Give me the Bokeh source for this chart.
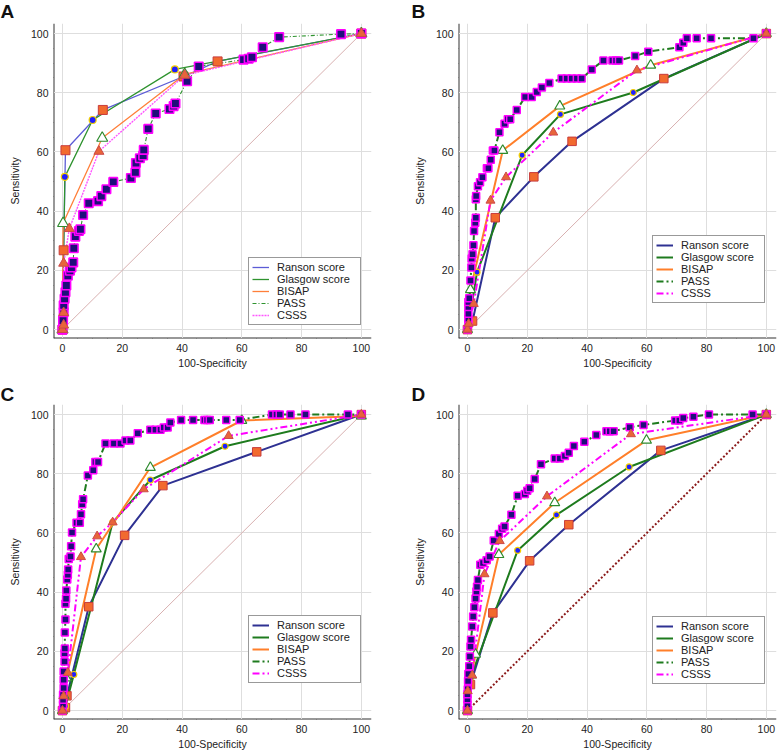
from bokeh.plotting import figure
from bokeh.layouts import column, row
from bokeh.models import Range1d, FixedTicker, Legend, LegendItem, LinearAxis
from bokeh.embed import file_html
from bokeh.resources import INLINE

FONT = "Liberation Sans"

SERIES = ["Ranson score", "Glasgow score", "BISAP", "PASS", "CSSS"]
MAJOR_TICKS = [0, 20, 40, 60, 80, 100]
MINOR_TICKS = [5, 10, 15, 25, 30, 35, 45, 50, 55, 65, 70, 75, 85, 90, 95]
DIAG = [0, 100]

A_ranson = [(0, 0), (0.4, 26.8), (1.0, 60.6), (13.5, 74.2), (40.5, 85.5), (51.9, 90.6), (100, 100)]
A_glasgow = [(0, 0), (0.8, 51.6), (10.1, 70.8), (37.6, 87.9), (100, 100)]
A_bisap = [(0, 0), (0.2, 35.9), (13.3, 64.7), (40.9, 86.2), (100, 100)]
A_pass = [(0, 0), (0.2, 3.1), (0.4, 5.9), (0.4, 8.2), (0.7, 10.4), (1.0, 12.6), (1.3, 14.9), (1.8, 18.2),
          (2.5, 19.9), (3.0, 21.0), (3.6, 22.7), (3.8, 27.5), (4.3, 31.4), (5.5, 33.3), (6.0, 33.9),
          (6.9, 38.7), (8.8, 42.7), (11.9, 43.4), (13.0, 45.1), (14.7, 47.4), (17.0, 49.9), (22.9, 51.2),
          (24.4, 53.1), (24.6, 56.3), (25.9, 57.9), (27.0, 58.8), (27.2, 60.7), (28.7, 67.8), (31.2, 73.0),
          (35.8, 74.5), (37.2, 75.5), (37.8, 76.4), (41.7, 83.9), (45.6, 88.9), (60.6, 91.2), (62.3, 91.5),
          (63.4, 92.0), (67.0, 95.4), (72.5, 98.8), (93.2, 99.8), (100, 100)]
A_csss = [(0, 0), (0.4, 1.5), (0.4, 5.7), (0.4, 22.4), (2.3, 34.1), (12.2, 60.2), (40.9, 85.9), (100, 100)]

B_ranson = [(0, 0), (1.7, 2.9), (9.3, 37.8), (22.2, 51.6), (35.0, 63.6), (65.7, 84.8), (100, 100)]
B_glasgow = [(0, 0), (0.6, 3.0), (3.2, 19.4), (18.3, 58.9), (31.1, 72.7), (55.5, 80.1), (100, 100)]
B_bisap = [(0, 0), (1.0, 13.5), (11.8, 60.5), (30.9, 75.5), (61.3, 89.3), (100, 100)]
B_pass = [(0, 0), (0.3, 2.0), (0.3, 3.7), (0.3, 5.4), (0.3, 7.6), (0.3, 9.3), (0.6, 10.6), (1.0, 16.6),
          (1.3, 21.0), (1.4, 24.0), (1.7, 25.5), (2.0, 28.5), (2.2, 33.3), (2.6, 36.1), (2.8, 37.8),
          (2.8, 44.0), (2.9, 45.1), (3.5, 48.4), (4.2, 49.8), (5.0, 51.5), (6.5, 54.5), (7.0, 54.5),
          (7.8, 57.4), (8.5, 60.5), (9.0, 60.5), (10.7, 66.7), (12.4, 69.5), (13.5, 71.1), (14.3, 71.1),
          (16.5, 74.2), (19.3, 78.6), (21.5, 78.6), (23.2, 80.3), (24.9, 81.8), (27.4, 83.3), (31.5, 84.8),
          (33.2, 84.8), (34.9, 84.8), (36.6, 84.8), (38.2, 84.8), (41.6, 87.9), (45.5, 90.9), (48.5, 90.9),
          (49.7, 90.9), (50.7, 90.9), (56.1, 92.4), (60.5, 93.9), (70.9, 95.4), (72.2, 96.9), (73.4, 98.4),
          (76.7, 98.4), (81.5, 98.4), (95.7, 98.4), (100, 100)]
B_csss = [(0, 0), (0.4, 2.0), (2.1, 8.7), (7.7, 43.6), (12.9, 51.5), (28.7, 66.6), (56.7, 87.6), (100, 100)]

C_ranson = [(0, 0), (1.0, 1.0), (1.5, 5.0), (8.8, 35.1), (20.8, 59.2), (33.6, 76.0), (65.0, 87.4), (100, 100)]
C_glasgow = [(0, 0), (1.0, 1.5), (3.8, 12.2), (16.8, 63.6), (29.4, 77.9), (54.4, 89.3), (100, 100)]
C_bisap = [(0, 0), (0.5, 5.0), (1.3, 11.0), (11.3, 54.6), (29.4, 82.1), (60.0, 98.0), (100, 99.5)]
C_pass = [(0, 0), (0.2, 2.0), (0.2, 3.7), (0.2, 5.4), (0.4, 7.6), (0.4, 10.4), (0.4, 13.2), (0.7, 16.6),
          (0.7, 19.4), (0.8, 21.0), (0.8, 26.4), (1.0, 30.8), (1.0, 36.1), (1.2, 37.8), (1.3, 40.6),
          (1.6, 44.3), (1.8, 45.9), (1.9, 47.7), (2.1, 51.2), (2.7, 52.1), (2.9, 55.5), (3.2, 60.2),
          (4.7, 63.5), (5.8, 63.5), (6.2, 66.3), (6.6, 69.7), (6.9, 71.4), (8.5, 79.4), (10.3, 81.2),
          (11.0, 84.0), (11.9, 84.0), (14.4, 90.2), (17.2, 90.2), (19.4, 90.2), (21.1, 91.2), (22.7, 91.2),
          (25.2, 93.7), (29.4, 94.9), (31.1, 94.9), (32.8, 94.9), (33.9, 95.6), (35.2, 95.6), (36.1, 97.3),
          (39.7, 98.2), (43.7, 98.2), (47.5, 98.2), (48.4, 98.2), (49.3, 98.2), (54.8, 98.2), (59.3, 98.2),
          (70.1, 100), (71.6, 100), (72.7, 100), (76.3, 100), (81.3, 100), (95.5, 100), (100, 100)]
C_csss = [(0, 0), (0.4, 4.9), (1.8, 12.8), (6.2, 51.9), (11.6, 58.9), (16.8, 63.6), (27.2, 74.8),
          (55.6, 92.8), (100, 100)]

D_ranson = [(0, 0), (1.0, 8.8), (8.5, 33.0), (20.8, 50.6), (33.9, 62.8), (64.7, 87.9), (100, 100)]
D_glasgow = [(0, 0), (1.0, 11.0), (16.8, 54.1), (29.8, 66.1), (54.1, 82.3), (100, 100)]
D_bisap = [(0, 0), (1.3, 12.0), (2.7, 19.0), (10.5, 52.7), (29.2, 70.2), (59.9, 91.3), (100, 100)]
D_pass = [(0, 0), (0, 2.1), (0, 3.8), (0, 5.5), (0.1, 7.2), (0.2, 10.0), (0.3, 12.4), (0.6, 15.0),
          (0.8, 18.3), (1.0, 21.7), (1.2, 23.9), (1.6, 28.4), (1.9, 31.8), (2.3, 34.9), (2.7, 37.9),
          (3.0, 40.2), (3.2, 41.8), (3.5, 44.1), (4.3, 49.3), (5.2, 49.9), (6.4, 50.8), (7.4, 52.1),
          (8.8, 57.5), (10.5, 59.7), (11.6, 61.4), (12.4, 62.2), (14.7, 66.2), (16.8, 72.6), (19.2, 73.2),
          (20.0, 74.3), (20.8, 75.1), (22.5, 78.2), (24.6, 83.2), (29.2, 85.2), (30.9, 85.2), (32.6, 86.0),
          (33.9, 87.1), (35.6, 89.4), (39.1, 90.8), (43.1, 93.1), (46.5, 94.4), (47.6, 94.4), (48.9, 94.4),
          (54.3, 95.7), (58.9, 96.5), (69.5, 98.0), (70.9, 98.0), (72.2, 98.8), (75.6, 99.3), (80.8, 100),
          (95.4, 100), (100, 100)]
D_csss = [(0, 0), (0.1, 6.6), (1.6, 11.9), (5.7, 46.1), (10.8, 57.3), (26.6, 72.4), (54.7, 93.4), (100, 100)]

LINE_THIN = [
    dict(line_color="#5c5cd6", line_width=1.3, line_dash="solid"),
    dict(line_color="#2f932f", line_width=1.3, line_dash="solid"),
    dict(line_color="#ff7f3a", line_width=1.3, line_dash="solid"),
    dict(line_color="#2f932f", line_width=1.1, line_dash="4 2 1 2"),
    dict(line_color="#ff55ff", line_width=1.4, line_dash="2 1"),
]
LINE_BOLD = [
    dict(line_color="#2e3192", line_width=2, line_dash="solid"),
    dict(line_color="#1e7b1e", line_width=2, line_dash="solid"),
    dict(line_color="#ff7f2a", line_width=2, line_dash="solid"),
    dict(line_color="#1e7b1e", line_width=2, line_dash="7 3 2 3"),
    dict(line_color="#ff00ff", line_width=2, line_dash="7 3 2 3 2 3"),
]
MARKERS_A = [
    dict(marker="square", size=9, fill_color="#f26a2e", line_color="#c83c3c", line_width=1),
    dict(marker="circle", size=7, fill_color="#1f1fff", line_color="#f5d000", line_width=1.2),
    dict(marker="triangle", size=11, fill_color="white", line_color="#2e8b2e", line_width=1.2),
    dict(marker="square", size=8.5, fill_color="#1f0f7a", line_color="#ff00ff", line_width=1.6),
    dict(marker="triangle", size=10, fill_color="#e8653a", line_color="#cc4a4a", line_width=1),
]
MARKERS = [
    dict(marker="square", size=8.5, fill_color="#f26a2e", line_color="#c83c3c", line_width=1),
    dict(marker="circle", size=6, fill_color="#1f1fff", line_color="#f5d000", line_width=1.2),
    dict(marker="triangle", size=10, fill_color="white", line_color="#2e8b2e", line_width=1.2),
    dict(marker="square", size=7, fill_color="#1f0f7a", line_color="#ff00ff", line_width=1.5),
    dict(marker="triangle", size=9, fill_color="#e8653a", line_color="#cc4a4a", line_width=1),
]


def style_text_axis(ax, label, standoff, label_standoff):
    ax.level = "guide"
    ax.axis_line_color = None
    ax.major_tick_line_color = None
    ax.minor_tick_line_color = None
    ax.major_tick_out = 0
    ax.major_tick_in = 0
    ax.minor_tick_out = 0
    ax.minor_tick_in = 0
    ax.major_label_text_font = FONT
    ax.major_label_text_font_size = "10.5px"
    ax.major_label_text_color = "#222222"
    ax.major_label_standoff = standoff
    ax.axis_label = label
    ax.axis_label_text_font = FONT
    ax.axis_label_text_font_size = "10.5px"
    ax.axis_label_text_font_style = "normal"
    ax.axis_label_text_color = "#222222"
    ax.axis_label_standoff = label_standoff


def panel(letter, curves, lines, markers, left, right, top, bottom, legend_xy, diag,
          letter_offset, letter_valign):
    p = figure(frame_width=318, frame_height=315,
               x_range=Range1d(-3, 103.4), y_range=Range1d(-3, 103.4),
               output_backend="svg", toolbar_location=None,
               min_border_left=left, min_border_right=right,
               min_border_top=top, min_border_bottom=bottom)
    p.outline_line_color = None

    ticker = FixedTicker(ticks=MAJOR_TICKS, minor_ticks=MINOR_TICKS)
    # axis lines and ticks (drawn at underlay level, no labels)
    for ax in (p.xaxis[0], p.yaxis[0]):
        ax.level = "underlay"
        ax.ticker = ticker
        ax.axis_line_color = "#333333"
        ax.axis_line_width = 2
        ax.major_tick_line_color = "#333333"
        ax.minor_tick_line_color = "#333333"
        ax.major_tick_line_width = 1
        ax.minor_tick_line_width = 1
        ax.major_tick_in = 0
        ax.major_tick_out = 5
        ax.minor_tick_in = 0
        ax.minor_tick_out = 3
        ax.major_label_text_font_size = "0px"
        ax.major_label_text_color = None
        ax.major_label_standoff = 0
    # tick labels and axis titles
    xt = LinearAxis(ticker=ticker)
    yt = LinearAxis(ticker=ticker)
    style_text_axis(xt, "100-Specificity", 0, 2)
    style_text_axis(yt, "Sensitivity", 0, 7)
    p.add_layout(xt, "below")
    p.add_layout(yt, "left")

    p.xgrid.ticker = FixedTicker(ticks=MAJOR_TICKS)
    p.ygrid.ticker = FixedTicker(ticks=MAJOR_TICKS)
    p.xgrid.grid_line_color = "#dedede"
    p.ygrid.grid_line_color = "#dedede"

    p.line(DIAG, DIAG, **diag)

    renderers = []
    for pts, st in zip(curves, lines):
        xs = [a for a, b in pts]
        ys = [b for a, b in pts]
        renderers.append(p.line(xs, ys, **st))
    for pts, mk in zip(curves, markers):
        xs = [a for a, b in pts]
        ys = [b for a, b in pts]
        p.scatter(xs, ys, **mk)

    legend = Legend(items=[LegendItem(label=n, renderers=[r]) for n, r in zip(SERIES, renderers)],
                    location=legend_xy)
    legend.border_line_color = "#333333"
    legend.border_line_width = 1.5
    legend.background_fill_color = "white"
    legend.background_fill_alpha = 1
    legend.label_text_font = FONT
    legend.label_text_font_size = "11px"
    legend.label_text_color = "#222222"
    legend.glyph_width = 17
    legend.glyph_height = 12
    legend.label_height = 12
    legend.label_width = 80
    legend.label_standoff = 8
    legend.spacing = 0
    legend.padding = 3
    legend.margin = 0
    p.add_layout(legend)

    p.title.text = letter
    p.title.text_font = FONT
    p.title.text_font_size = "19px"
    p.title.text_font_style = "bold"
    p.title.text_color = "#111111"
    p.title.align = "left"
    p.title.vertical_align = letter_valign
    p.title.offset = letter_offset
    p.title.standoff = 0
    p.title.text_line_height = 1.0
    return p


DIAG_LIGHT = dict(line_color="#d8b0b0", line_width=1)
DIAG_DOT = dict(line_color="#8b1a1a", line_width=2, line_dash="2 2")

pA = panel("A", [A_ranson, A_glasgow, A_bisap, A_pass, A_csss], LINE_THIN, MARKERS_A,
           53, 24, 23, 42, (195, 13), DIAG_LIGHT, -53, "top")
pB = panel("B", [B_ranson, B_glasgow, B_bisap, B_pass, B_csss], LINE_BOLD, MARKERS,
           63, 2, 23, 42, (194, 35), DIAG_LIGHT, -47, "top")
pC = panel("C", [C_ranson, C_glasgow, C_bisap, C_pass, C_csss], LINE_BOLD, MARKERS,
           53, 24, 24, 35, (195, 36), DIAG_LIGHT, -53, "bottom")
pD = panel("D", [D_ranson, D_glasgow, D_bisap, D_pass, D_csss], LINE_BOLD, MARKERS,
           63, 2, 24, 35, (194, 35), DIAG_DOT, -47, "bottom")

layout = column(row(pA, pB), row(pC, pD))
open("out.html", "w").write(file_html(layout, INLINE))
